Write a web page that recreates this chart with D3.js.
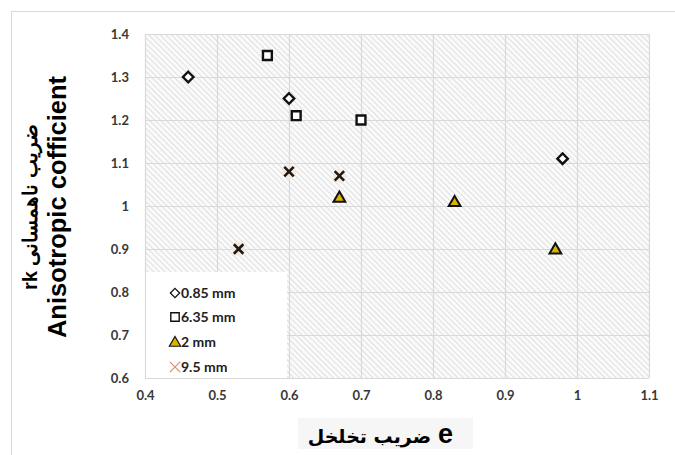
<!DOCTYPE html>
<html><head><meta charset="utf-8">
<script src="https://cdn.jsdelivr.net/npm/d3@7"></script>
<style>
body{margin:0;background:#fff;}
svg{display:block;}
</style></head>
<body>
<svg id="c" width="675" height="455"></svg>
<script>
const xTicks = [0.4,0.5,0.6,0.7,0.8,0.9,1,1.1];
const yTicks = [0.6,0.7,0.8,0.9,1,1.1,1.2,1.3,1.4];
const seriesNames = ["0.85 mm","6.35 mm","2 mm","9.5 mm"];
const s085x = [0.46,0.60,0.98];
const s085y = [1.30,1.25,1.11];
const s635x = [0.57,0.61,0.70];
const s635y = [1.35,1.21,1.20];
const s2x = [0.67,0.83,0.97];
const s2y = [1.02,1.01,0.90];
const s95x = [0.53,0.60,0.67];
const s95y = [0.90,1.08,1.07];
const yTitle1 = "rk ضریب ناهمسانی";
const yTitle2 = "Anisotropic cofficient";
const xTitleAr = "ضریب تخلخل";
const xTitleEn = "e";

const svg = d3.select("#c");
const L=145,R=649,T=34,B=378;
const x = d3.scaleLinear().domain([0.4,1.1]).range([L,R]);
const y = d3.scaleLinear().domain([0.6,1.4]).range([B,T]);

// outer border
svg.append("rect").attr("x",11.5).attr("y",11.5).attr("width",700).attr("height",500)
  .attr("fill","none").attr("stroke","#d9d9d9");

const defs = svg.append("defs");
const pat = defs.append("pattern").attr("id","hatch").attr("patternUnits","userSpaceOnUse")
  .attr("width",4).attr("height",4).attr("patternTransform","rotate(-45)");
pat.append("rect").attr("width",4).attr("height",4).attr("fill","#fafafa");
pat.append("line").attr("x1",0).attr("y1",0).attr("x2",0).attr("y2",4)
  .attr("stroke","#d6d6d6").attr("stroke-width",1.5);

svg.append("rect").attr("x",L).attr("y",T).attr("width",R-L).attr("height",B-T)
  .attr("fill","url(#hatch)");

// grid
svg.append("g").selectAll("line").data(yTicks).join("line")
  .attr("x1",L).attr("x2",R).attr("y1",d=>Math.round(y(d))+0.5).attr("y2",d=>Math.round(y(d))+0.5)
  .attr("stroke","#d9d9d9").attr("stroke-width",1.2);
svg.append("g").selectAll("line").data(xTicks).join("line")
  .attr("y1",T).attr("y2",B).attr("x1",d=>Math.round(x(d))+0.5).attr("x2",d=>Math.round(x(d))+0.5)
  .attr("stroke","#d9d9d9").attr("stroke-width",1.2);

// axes labels via d3 axes
const fmt = d=> (d===1? "1" : d3.format(".1f")(d));
const gx = svg.append("g").attr("transform",`translate(0,${B})`)
  .call(d3.axisBottom(x).tickValues(xTicks).tickFormat(fmt).tickSize(0).tickPadding(13));
const gy = svg.append("g").attr("transform",`translate(${L},0)`)
  .call(d3.axisLeft(y).tickValues(yTicks).tickFormat(fmt).tickSize(0).tickPadding(16));
[gx,gy].forEach(g=>{
  g.select(".domain").remove();
  g.selectAll("text").attr("font-family","Lato, 'Liberation Sans', sans-serif")
    .attr("font-weight","bold").attr("font-size","13px").attr("fill","#383838");
});

// legend
const lg = svg.append("g");
lg.append("rect").attr("x",146).attr("y",272).attr("width",141).attr("height",B-272).attr("fill","#fff");

const sym = (type,size)=>d3.symbol().type(type).size(size)();
function drawMarker(g,k,cx,cy,legend){
  if(k===0){
    g.append("path").attr("d",sym(d3.symbolDiamond2,legend?55:70)).attr("transform",`translate(${cx},${cy})`)
      .attr("fill","#fff").attr("stroke","#111").attr("stroke-width",legend?1.3:2.4);
  } else if(k===1){
    g.append("path").attr("d",sym(d3.symbolSquare2,legend?90:100)).attr("transform",`translate(${cx},${cy})`)
      .attr("fill","#fff").attr("stroke","#111").attr("stroke-width",legend?1.4:2.4);
  } else if(k===2){
    g.append("path").attr("d",sym(d3.symbolTriangle,legend?55:60)).attr("transform",`translate(${cx},${cy+1})`)
      .attr("fill","#d8b400").attr("stroke","#111").attr("stroke-width",legend?1.2:2);
  } else {
    if(!legend){
      g.append("circle").attr("cx",cx).attr("cy",cy).attr("r",7).attr("fill","#fbe6d2").attr("opacity",0.8);
    }
    g.append("path").attr("d",sym(d3.symbolTimes,legend?70:60)).attr("transform",`translate(${cx},${cy})`)
      .attr("fill","none").attr("stroke",legend?"#d9926a":"#1a1a1a").attr("stroke-width",legend?1.3:2.6);
  }
}
const legY=[293,317,342,367];
const legX=175;
seriesNames.forEach((n,i)=>{
  drawMarker(lg,i,legX,legY[i],true);
  lg.append("text").attr("x",legX+6).attr("y",legY[i]+4.5).text(n)
    .attr("font-family","Lato, 'Liberation Sans', sans-serif").attr("font-weight","bold")
    .attr("font-size","14px").attr("fill","#222");
});

// data
const sets = [[s085x,s085y],[s635x,s635y],[s2x,s2y],[s95x,s95y]];
const pg = svg.append("g");
sets.forEach(([xs,ys],k)=>{
  xs.forEach((v,i)=>drawMarker(pg,k,x(v),y(ys[i]),false));
});

// y title
const yt = svg.append("text").attr("transform","translate(0,207) rotate(-90)")
  .attr("text-anchor","middle").attr("font-family","'Liberation Sans', Arial, sans-serif")
  .attr("font-weight","bold").attr("fill","#000");
yt.append("tspan").attr("x",0).attr("y",37).attr("font-size","20px").text(yTitle1);
yt.append("tspan").attr("x",0).attr("y",66).attr("font-size","25.5px").text(yTitle2);

// x title
svg.append("rect").attr("x",298).attr("y",418).attr("width",175).attr("height",31).attr("fill","#f6f6f6");
svg.append("text").attr("x",431).attr("y",443).attr("text-anchor","end")
  .attr("font-family","'DejaVu Sans', sans-serif").attr("font-weight","bold").attr("fill","#000")
  .attr("font-size","19px").text(xTitleAr);
svg.append("text").attr("x",438).attr("y",443).attr("text-anchor","start")
  .attr("font-family","'Liberation Sans', Arial, sans-serif").attr("font-weight","bold").attr("fill","#000")
  .attr("font-size","27px").text(xTitleEn);
</script>
</body></html>
